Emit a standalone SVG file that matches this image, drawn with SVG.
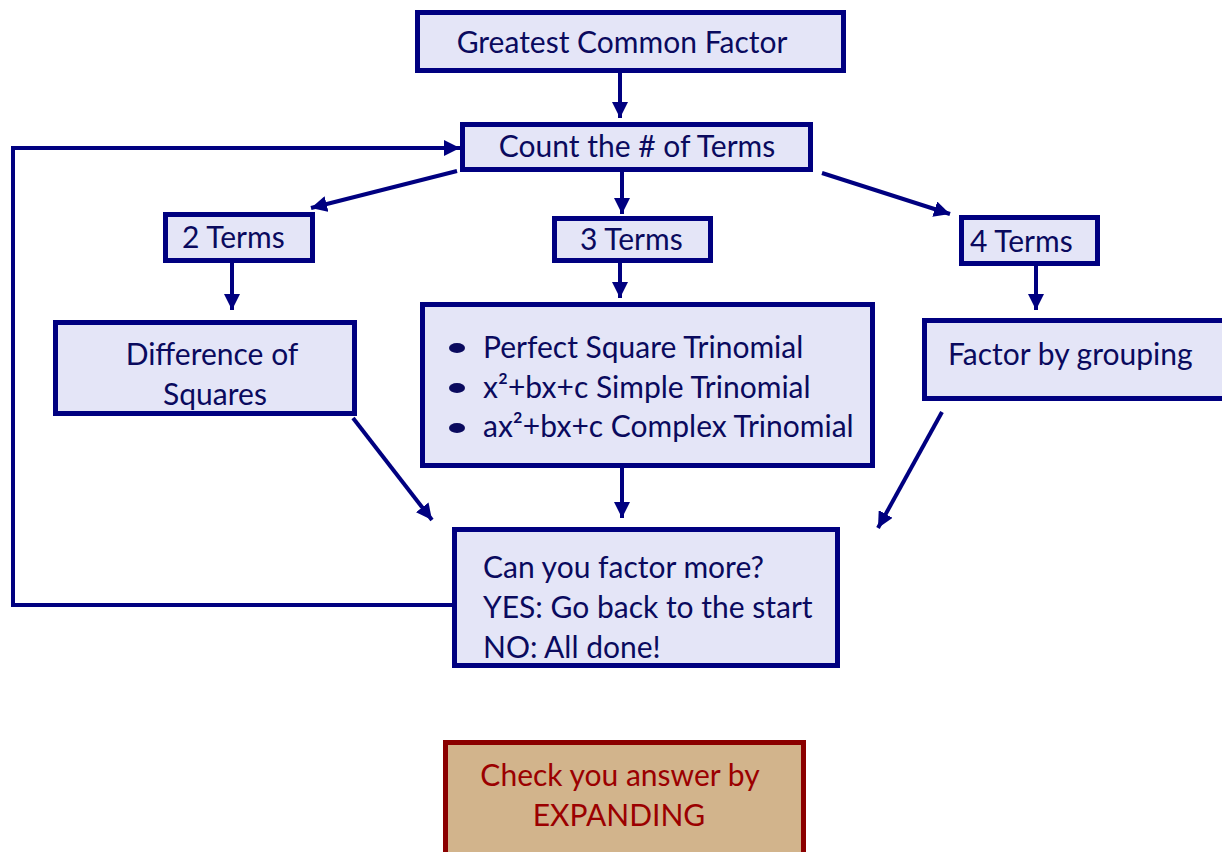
<svg xmlns="http://www.w3.org/2000/svg" width="1222" height="852" viewBox="0 0 1222 852">
<style>
.box{fill:#e4e5f7;stroke:#000080;stroke-width:5}
.t{font-family:Lato,"Liberation Sans",sans-serif;font-size:30px;fill:#0a0a5e}
.c{text-anchor:middle}
.con{fill:none;stroke:#000080;stroke-width:4;marker-end:url(#ah)}
.red{fill:#d2b48c;stroke:#8b0000;stroke-width:5}
.rt{font-family:Lato,"Liberation Sans",sans-serif;font-size:30px;fill:#9b0000;text-anchor:middle}
</style>
<defs>
<marker id="ah" markerUnits="userSpaceOnUse" markerWidth="16" markerHeight="16" refX="14" refY="7" orient="auto" viewBox="0 0 14 14">
<path d="M0,0 L14,7 L0,14 z" fill="#000080"/>
</marker>
</defs>
<rect width="1222" height="852" fill="#ffffff"/>
<g id="connectors">
<path class="con" d="M620,73 V118"/>
<path class="con" d="M452,605 H13 V148 H460"/>
<path class="con" d="M457,171 L311,208"/>
<path class="con" d="M622,172 V214"/>
<path class="con" d="M822,173 L950,214"/>
<path class="con" d="M232,263 V310"/>
<path class="con" d="M620,262 V298"/>
<path class="con" d="M1036,266 V310"/>
<path class="con" d="M353,418 L432,520"/>
<path class="con" d="M622,468 V518"/>
<path class="con" d="M942,412 L878,528"/>
</g>
<g id="gcf">
<rect class="box" x="417.5" y="12.5" width="426" height="58"/>
<text class="t c" x="622" y="53">Greatest Common Factor</text>
</g>
<g id="count">
<rect class="box" x="462.5" y="124.5" width="348" height="45"/>
<text class="t c" x="637" y="157">Count the # of Terms</text>
</g>
<g id="two">
<rect class="box" x="165.5" y="214.5" width="147" height="46"/>
<text class="t" x="182" y="248">2 Terms</text>
</g>
<g id="three">
<rect class="box" x="554.5" y="218.5" width="156" height="42"/>
<text class="t" x="580" y="250">3 Terms</text>
</g>
<g id="four">
<rect class="box" x="961.5" y="217.5" width="136" height="46"/>
<text class="t" x="970" y="252">4 Terms</text>
</g>
<g id="difference">
<rect class="box" x="55.5" y="322.5" width="299" height="91"/>
<text class="t c" x="212" y="365">Difference of</text>
<text class="t c" x="215" y="405">Squares</text>
</g>
<g id="trinomials">
<rect class="box" x="422.5" y="304.5" width="450" height="161"/>
<ellipse cx="457" cy="348" rx="8" ry="5" fill="#0a0a5e"/>
<ellipse cx="457" cy="388" rx="8" ry="5" fill="#0a0a5e"/>
<ellipse cx="457" cy="428" rx="8" ry="5" fill="#0a0a5e"/>
<text class="t" x="483" y="358">Perfect Square Trinomial</text>
<text class="t" x="483" y="398">x²+bx+c Simple Trinomial</text>
<text class="t" x="483" y="437">ax²+bx+c Complex Trinomial</text>
</g>
<g id="grouping">
<rect class="box" x="924.5" y="320.5" width="302" height="78"/>
<text class="t" x="948" y="365">Factor by grouping</text>
</g>
<g id="more">
<rect class="box" x="454.5" y="529.5" width="383" height="136"/>
<text class="t" x="483" y="578">Can you factor more?</text>
<text class="t" x="483" y="618">YES: Go back to the start</text>
<text class="t" x="483" y="658">NO: All done!</text>
</g>
<g id="check">
<rect class="red" x="445.5" y="742.5" width="358" height="120"/>
<text class="rt" x="620" y="786">Check you answer by</text>
<text class="rt" x="619" y="826">EXPANDING</text>
</g>
</svg>
